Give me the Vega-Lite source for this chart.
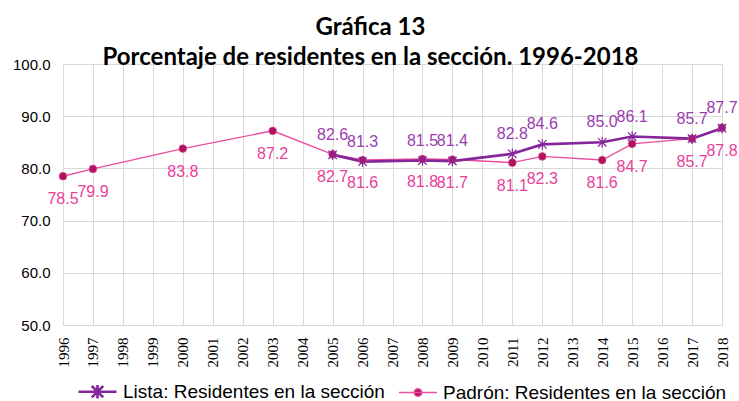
{
  "$schema": "https://vega.github.io/schema/vega-lite/v6.json",
  "autosize": "none",
  "width": 659,
  "height": 261,
  "padding": {"left": 63, "top": 64, "right": 17, "bottom": 76},
  "background": "white",
  "config": {"view": {"stroke": null}},
  "title": {
    "text": ["Gráfica 13", "Porcentaje de residentes en la sección. 1996-2018"],
    "font": "Lato",
    "fontSize": 24,
    "fontWeight": "bold",
    "color": "#000000",
    "anchor": "middle",
    "dx": -22,
    "dy": 34,
    "baseline": "alphabetic",
    "lineHeight": 30,
    "offset": 2
  },
  "data": {
    "values": [
      {"anio": 1996, "serie": "Padrón: Residentes en la sección", "valor": 78.5},
      {"anio": 1997, "serie": "Padrón: Residentes en la sección", "valor": 79.9},
      {"anio": 2000, "serie": "Padrón: Residentes en la sección", "valor": 83.8},
      {"anio": 2003, "serie": "Padrón: Residentes en la sección", "valor": 87.2},
      {"anio": 2005, "serie": "Padrón: Residentes en la sección", "valor": 82.7},
      {"anio": 2006, "serie": "Padrón: Residentes en la sección", "valor": 81.6},
      {"anio": 2008, "serie": "Padrón: Residentes en la sección", "valor": 81.8},
      {"anio": 2009, "serie": "Padrón: Residentes en la sección", "valor": 81.7},
      {"anio": 2011, "serie": "Padrón: Residentes en la sección", "valor": 81.1},
      {"anio": 2012, "serie": "Padrón: Residentes en la sección", "valor": 82.3},
      {"anio": 2014, "serie": "Padrón: Residentes en la sección", "valor": 81.6},
      {"anio": 2015, "serie": "Padrón: Residentes en la sección", "valor": 84.7},
      {"anio": 2017, "serie": "Padrón: Residentes en la sección", "valor": 85.7},
      {"anio": 2018, "serie": "Padrón: Residentes en la sección", "valor": 87.8},
      {"anio": 2005, "serie": "Lista: Residentes en la sección", "valor": 82.6},
      {"anio": 2006, "serie": "Lista: Residentes en la sección", "valor": 81.3},
      {"anio": 2008, "serie": "Lista: Residentes en la sección", "valor": 81.5},
      {"anio": 2009, "serie": "Lista: Residentes en la sección", "valor": 81.4},
      {"anio": 2011, "serie": "Lista: Residentes en la sección", "valor": 82.8},
      {"anio": 2012, "serie": "Lista: Residentes en la sección", "valor": 84.6},
      {"anio": 2014, "serie": "Lista: Residentes en la sección", "valor": 85.0},
      {"anio": 2015, "serie": "Lista: Residentes en la sección", "valor": 86.1},
      {"anio": 2017, "serie": "Lista: Residentes en la sección", "valor": 85.7},
      {"anio": 2018, "serie": "Lista: Residentes en la sección", "valor": 87.7}
    ]
  },
  "encoding": {
    "x": {
      "field": "anio",
      "type": "quantitative",
      "scale": {"domain": [1996, 2018], "nice": false, "zero": false},
      "axis": {
        "title": null,
        "values": [1996,1997,1998,1999,2000,2001,2002,2003,2004,2005,2006,2007,2008,2009,2010,2011,2012,2013,2014,2015,2016,2017,2018],
        "format": "d",
        "labelAngle": 270,
        "labelFont": "Liberation Sans Narrow",
        "labelFontSize": 15,
        "labelColor": "#000000",
        "labelPadding": 12,
        "labelFlush": false,
        "labelOverlap": false,
        "ticks": false,
        "domain": true,
        "domainColor": "#D9D9D9",
        "grid": true,
        "gridColor": "#D9D9D9",
        "gridWidth": 1
      }
    },
    "y": {
      "field": "valor",
      "type": "quantitative",
      "scale": {"domain": [50, 100], "nice": false, "zero": false},
      "axis": {
        "title": null,
        "values": [50, 60, 70, 80, 90, 100],
        "format": ".1f",
        "labelFont": "Liberation Sans",
        "labelFontSize": 15,
        "labelColor": "#000000",
        "labelPadding": 13,
        "ticks": false,
        "domain": false,
        "grid": true,
        "gridColor": "#D9D9D9",
        "gridWidth": 1
      }
    }
  },
  "layer": [
    {
      "mark": {"type": "line", "interpolate": "linear"},
      "encoding": {
        "color": {
          "field": "serie",
          "type": "nominal",
          "scale": {
            "domain": ["Lista: Residentes en la sección", "Padrón: Residentes en la sección"],
            "range": ["#84269A", "#EC4D9F"]
          },
          "legend": {
            "orient": "none",
            "legendX": 14,
            "legendY": 307,
            "direction": "horizontal",
            "title": null,
            "labelFont": "Liberation Sans",
            "labelFontSize": 19,
            "labelColor": "#000000",
            "labelOffset": 5,
            "labelLimit": 400,
            "columnPadding": 11,
            "symbolSize": 1444,
            "symbolType": "stroke",
            "symbolStrokeWidth": 2,
            "encode": {
              "symbols": {
                "update": {
                  "shape": {"signal": "datum.value === 'Lista: Residentes en la sección' ? 'M-1,0L1,0M-0.3,-0.3L0.3,0.3M-0.3,0.3L0.3,-0.3M0,-0.36L0,0.36' : 'M-1,0L1,0M0.2,0A0.2,0.2 0 1,1 -0.2,0A0.2,0.2 0 1,1 0.2,0Z'"},
                  "size": {"value": 1444},
                  "fill": {"signal": "datum.value === 'Lista: Residentes en la sección' ? 'transparent' : '#B0135E'"},
                  "stroke": {"signal": "datum.value === 'Lista: Residentes en la sección' ? '#84269A' : '#EC4D9F'"},
                  "strokeWidth": {"signal": "datum.value === 'Lista: Residentes en la sección' ? 2.2 : 1.6"}
                }
              }
            }
          }
        },
        "strokeWidth": {
          "field": "serie",
          "type": "nominal",
          "scale": {
            "domain": ["Lista: Residentes en la sección", "Padrón: Residentes en la sección"],
            "range": [2.6, 1.4]
          },
          "legend": null
        }
      }
    },
    {
      "transform": [{"filter": "datum.serie === 'Padrón: Residentes en la sección'"}],
      "mark": {"type": "point", "filled": true, "shape": "circle", "size": 60, "color": "#B0135E", "opacity": 1, "stroke": "#E0559A", "strokeWidth": 0.6}
    },
    {
      "transform": [{"filter": "datum.serie === 'Lista: Residentes en la sección'"}],
      "mark": {"type": "point", "filled": false, "shape": "M-0.8,-0.8L0.8,0.8M-0.8,0.8L0.8,-0.8M0,-1L0,1", "size": 110, "stroke": "#84269A", "strokeWidth": 1.2, "opacity": 1}
    },
    {
      "transform": [{"filter": "datum.serie === 'Lista: Residentes en la sección'"}],
      "mark": {"type": "text", "dy": -20, "font": "Liberation Sans", "fontSize": 16, "color": "#9B3DAE"},
      "encoding": {"text": {"field": "valor", "type": "quantitative", "format": ".1f"}}
    },
    {
      "transform": [{"filter": "datum.serie === 'Padrón: Residentes en la sección'"}],
      "mark": {"type": "text", "dy": 23, "font": "Liberation Sans", "fontSize": 16, "color": "#E8409A"},
      "encoding": {"text": {"field": "valor", "type": "quantitative", "format": ".1f"}}
    }
  ]
}
